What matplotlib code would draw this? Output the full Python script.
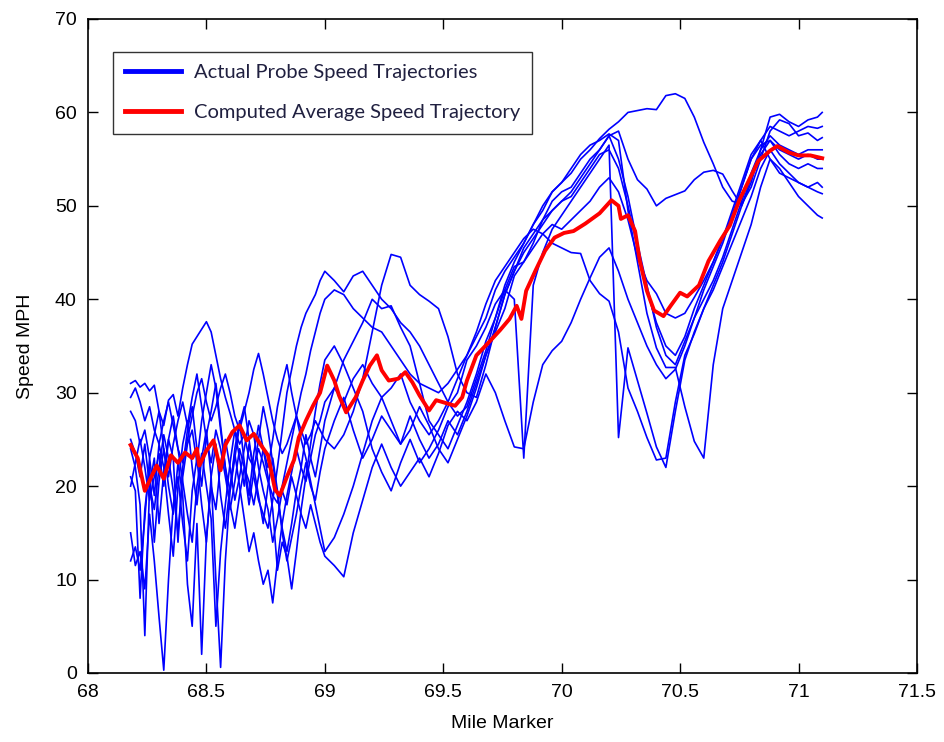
import matplotlib
matplotlib.use("Agg")
import matplotlib.pyplot as plt

# mile marker grid shared by the probe trajectories
miles_left = [68.18, 68.20, 68.22, 68.24, 68.26, 68.28, 68.30, 68.32, 68.34, 68.36,
              68.38, 68.40, 68.42, 68.44, 68.46, 68.48, 68.50, 68.52, 68.54, 68.56,
              68.58, 68.60, 68.62, 68.64, 68.66, 68.68, 68.70, 68.72, 68.74, 68.76,
              68.78, 68.80, 68.82, 68.84, 68.86, 68.88, 68.90, 68.92, 68.94, 68.96,
              68.98, 69.00]
miles_right = [69.04, 69.08, 69.12, 69.16, 69.20, 69.24, 69.28, 69.32, 69.36, 69.40,
               69.44, 69.48, 69.52, 69.56, 69.60, 69.64, 69.68, 69.72, 69.76, 69.80,
               69.84, 69.88, 69.92, 69.96, 70.00, 70.04, 70.08, 70.12, 70.16, 70.20,
               70.24, 70.28, 70.32, 70.36, 70.40, 70.44, 70.48, 70.52, 70.56, 70.60,
               70.64, 70.68, 70.72, 70.76, 70.80, 70.84, 70.88, 70.92, 70.96, 71.00,
               71.04, 71.08, 71.10]
probe_miles = miles_left + miles_right

# probe speed trajectories (mph)
probe_1 = [31.0, 31.3, 30.6, 31.0, 30.2, 30.8, 28.0, 26.5, 29.2, 29.8, 27.5, 30.5, 33.0, 35.2,
           36.0, 36.8, 37.6, 36.5, 34.0, 31.5, 29.5, 27.8, 26.0, 24.5, 25.5, 23.0, 22.0, 24.0,
           22.5, 20.5, 19.0, 18.2, 20.0, 22.5, 25.0, 27.5, 30.0, 32.0, 34.5, 36.5, 38.5, 40.0,
           41.0, 40.5, 39.0, 38.0, 37.0, 36.5, 35.0, 33.5, 32.0, 31.0, 30.5, 30.0, 31.0, 32.5,
           34.0, 36.0, 38.0, 41.0, 43.0, 44.5, 46.0, 48.0, 50.0, 51.5, 52.5, 53.5, 55.0, 56.0,
           57.2, 58.2, 59.0, 60.0, 60.2, 60.4, 60.3, 61.8, 62.0, 61.5, 59.5, 56.8, 54.5, 52.0,
           50.5, 50.2, 52.0, 55.0, 58.0, 59.2, 58.8, 57.5, 57.8, 57.0, 57.3]
probe_2 = [29.5, 30.5, 29.0, 27.0, 28.5, 26.0, 24.5, 27.0, 29.0, 26.5, 24.0, 22.5, 25.0, 27.5,
           30.0, 31.5, 29.0, 27.0, 28.5, 30.5, 32.0, 30.0, 27.5, 26.0, 28.0, 30.0, 32.5, 34.2,
           32.0, 29.5, 27.0, 25.0, 23.5, 24.5, 26.0, 27.5, 26.0, 24.5, 25.5, 27.0, 26.0, 25.0,
           24.0, 25.5, 28.0, 31.5, 36.5, 41.5, 44.8, 44.5, 41.5, 40.5, 39.8, 39.0, 36.0, 32.0,
           30.0, 29.5, 33.0, 37.0, 40.5, 43.0, 45.5, 47.0, 48.5, 49.5, 50.5, 51.5, 53.0, 54.5,
           56.0, 57.5, 58.0, 55.0, 52.8, 51.8, 50.0, 50.8, 51.2, 51.6, 52.8, 53.6, 53.8, 53.4,
           51.6, 50.0, 52.5, 56.0, 59.5, 59.8, 59.0, 58.5, 59.2, 59.5, 60.0]
probe_3 = [24.0, 22.0, 18.0, 4.0, 20.0, 23.0, 16.0, 21.5, 25.0, 23.0, 14.0, 22.0, 26.0, 28.5,
           24.0, 20.0, 25.5, 28.0, 31.0, 26.5, 22.0, 19.5, 23.0, 26.5, 28.5, 25.0, 21.0, 18.5,
           17.0, 15.5, 18.5, 22.0, 26.0, 30.0, 32.5, 35.0, 37.0, 38.5, 39.5, 40.5, 42.0, 43.0,
           42.0, 40.8, 42.5, 43.0, 41.5, 40.0, 39.0, 37.5, 36.5, 35.0, 33.0, 31.0, 29.0, 27.5,
           28.5, 31.5, 34.5, 38.0, 41.5, 44.0, 46.0, 48.0, 49.5, 51.5, 52.5, 54.0, 55.5, 56.5,
           57.0, 57.7, 57.0, 49.5, 44.0, 38.5, 34.8, 32.7, 32.7, 28.5, 24.8, 23.0, 33.0, 39.0,
           42.0, 45.0, 48.0, 52.0, 55.0, 54.0, 52.5, 51.0, 50.0, 49.0, 48.7]
probe_4 = [15.0, 11.5, 13.0, 9.0, 17.0, 12.0, 6.0, 0.3, 10.0, 18.0, 21.0, 16.0, 12.0, 19.5,
           23.0, 18.0, 14.0, 21.0, 24.5, 19.0, 15.5, 20.0, 23.5, 20.0, 16.5, 13.0, 15.0, 12.0,
           9.5, 11.0, 7.5, 12.0, 16.0, 19.0, 21.5, 24.0, 22.0, 20.5, 23.0, 25.5, 27.0, 29.0,
           30.5, 29.0, 31.5, 33.0, 31.0, 29.5, 30.5, 32.0, 29.0, 27.0, 25.5, 27.0, 29.0, 31.5,
           34.0, 36.5, 39.5, 42.0, 43.5, 45.0, 46.5, 47.5, 47.0, 46.0, 45.5, 45.0, 44.9, 42.0,
           40.6, 39.8, 36.5, 30.5, 28.0, 25.2, 22.8, 23.0, 29.0, 34.0, 36.3, 39.0, 41.0, 43.5,
           46.0, 48.5, 51.0, 54.0, 56.0, 54.5, 53.5, 52.5, 52.0, 51.5, 51.3]
probe_5 = [21.0, 19.5, 8.0, 17.5, 22.0, 14.0, 20.5, 24.0, 20.0, 17.0, 22.5, 19.0, 9.5, 5.0,
           16.0, 2.0, 14.5, 20.0, 17.5, 22.5, 25.0, 22.0, 18.5, 21.0, 24.0, 27.0, 25.5, 22.0,
           19.5, 17.5, 14.0, 16.5, 19.5, 18.0, 21.0, 19.0, 17.0, 15.5, 18.0, 16.0, 14.0, 12.5,
           11.5, 10.3, 15.0, 18.5, 22.0, 24.5, 22.0, 20.0, 21.5, 23.0, 21.0, 23.5, 26.5, 28.0,
           27.0, 29.0, 32.0, 30.0, 27.0, 24.2, 24.0, 29.0, 33.0, 34.5, 35.5, 37.5, 40.0, 42.3,
           44.5, 45.5, 43.0, 40.0, 37.5, 35.0, 33.0, 31.5, 32.5, 35.0, 38.0, 41.0, 43.5, 46.0,
           49.0, 52.0, 55.0, 57.0, 58.5, 58.0, 57.5, 58.0, 58.5, 58.3, 58.5]
probe_6 = [12.0, 13.5, 11.0, 16.5, 23.0, 19.0, 24.5, 22.0, 17.0, 12.5, 20.0, 24.5, 27.0, 22.0,
           18.0, 23.0, 26.0, 21.0, 10.0, 0.6, 12.0, 19.5, 24.0, 27.0, 22.5, 19.0, 23.5, 26.5,
           24.0, 21.0, 17.5, 11.0, 14.0, 12.5, 9.0, 13.0, 17.5, 21.0, 24.5, 28.0, 31.0, 33.5,
           35.0, 33.0, 30.5, 28.0, 24.0, 21.5, 19.5, 22.5, 25.0, 22.5, 24.0, 26.0, 28.5, 30.0,
           33.5, 35.0, 37.0, 39.5, 41.0, 40.0, 23.0, 41.5, 45.0, 47.5, 49.0, 50.5, 52.0, 53.5,
           55.0, 56.5, 25.2, 34.8, 31.3, 27.8, 24.2, 22.0, 28.0, 33.5, 36.5, 39.0, 41.5, 44.0,
           47.0, 50.0, 53.0, 55.5, 57.0, 55.5, 54.5, 54.0, 54.5, 54.0, 54.0]
probe_7 = [25.0, 23.5, 21.0, 24.5, 20.0, 17.5, 22.0, 25.5, 23.0, 19.5, 15.0, 21.0, 24.5, 26.0,
           22.5, 27.0, 30.0, 33.0, 30.5, 26.0, 22.0, 17.5, 20.5, 24.0, 22.0, 18.0, 21.5, 25.0,
           28.5, 26.0, 22.5, 19.0, 15.5, 13.0, 16.0, 19.5, 22.0, 25.5, 23.0, 21.0, 24.0, 27.0,
           30.5, 33.5, 35.5, 37.5, 40.0, 39.0, 39.3, 37.0, 35.0, 31.0, 27.0, 25.5, 24.0, 26.5,
           29.0, 32.0, 35.5, 38.0, 41.0, 43.5, 44.0, 45.5, 47.0, 48.0, 47.5, 48.5, 49.5, 50.5,
           52.0, 53.0, 51.5, 48.5, 44.5, 42.0, 40.6, 38.5, 38.0, 38.5, 40.2, 42.0, 44.0, 46.5,
           49.0, 52.0, 55.0, 56.5, 57.0, 56.0, 55.5, 55.0, 55.5, 55.0, 55.0]
probe_8 = [20.0, 22.5, 25.0, 22.0, 18.5, 21.0, 23.5, 20.0, 25.0, 27.5, 24.0, 20.5, 17.0, 14.0,
           20.0, 23.5, 20.0, 16.5, 5.0, 13.0, 18.0, 22.5, 26.0, 23.0, 20.0, 24.5, 22.0, 19.0,
           16.0, 20.0, 23.0, 19.5, 15.0, 12.0, 14.5, 17.0, 20.0, 22.5, 20.0, 18.5, 21.5, 24.0,
           27.0, 29.5, 26.0, 23.0, 25.0, 27.5, 26.0, 24.5, 27.5, 25.0, 23.0, 24.5, 27.0, 25.5,
           28.0, 31.0, 34.0, 36.5, 39.0, 42.5, 44.0, 46.0, 48.5, 50.5, 51.5, 52.0, 53.5, 55.0,
           56.0, 57.5, 55.0, 51.0, 46.0, 41.5, 37.0, 34.0, 33.0, 35.5, 38.0, 40.0, 42.0, 44.5,
           47.5, 50.5, 53.5, 56.0, 57.5, 56.5, 56.0, 55.5, 56.0, 56.0, 56.0]
probe_9 = [28.0, 27.0, 24.5, 26.0, 23.0, 25.5, 28.0, 24.0, 21.0, 24.5, 27.0, 29.0, 26.5, 29.5,
           32.0, 28.5, 25.0, 22.5, 26.0, 24.0, 21.0, 18.0, 15.5, 19.0, 22.0, 20.5, 18.0, 21.0,
           24.0, 22.0, 25.0, 28.5, 31.0, 33.0, 30.0, 27.5, 25.0, 23.0, 20.5, 18.0, 15.5, 13.0,
           14.5, 17.0, 20.0, 23.5, 27.0, 29.5, 27.0, 24.5, 26.0, 28.5, 26.5, 24.0, 22.5, 25.0,
           27.5, 30.5, 34.0, 37.0, 40.5, 43.0, 45.0, 46.5, 48.0, 49.5, 50.5, 51.0, 52.5, 54.0,
           55.5, 56.0, 54.0, 50.0, 45.5, 41.0, 37.5, 35.0, 34.0, 36.0, 39.0, 41.5, 44.0, 46.5,
           49.5, 52.5, 55.5, 57.0, 55.0, 53.5, 53.0, 52.5, 52.0, 52.5, 52.0]
probes = [probe_1, probe_2, probe_3, probe_4, probe_5, probe_6, probe_7, probe_8, probe_9]

# computed average trajectory
avg_miles = [68.18, 68.21, 68.24, 68.26, 68.29, 68.32, 68.35, 68.38, 68.41, 68.44, 68.46,
             68.47, 68.50, 68.53, 68.56, 68.58, 68.61, 68.64, 68.67, 68.70, 68.73, 68.76,
             68.79, 68.81, 68.84, 68.87, 68.89, 68.92, 68.95, 68.98, 69.01, 69.04, 69.06,
             69.09, 69.13, 69.16, 69.19, 69.22, 69.24, 69.27, 69.31, 69.34, 69.37, 69.40,
             69.44, 69.47, 69.51, 69.55, 69.58, 69.60, 69.64, 69.70, 69.74, 69.78, 69.81,
             69.83, 69.85, 69.89, 69.93, 69.97, 70.01, 70.05, 70.10, 70.16, 70.21, 70.24,
             70.25, 70.28, 70.31, 70.33, 70.36, 70.39, 70.43, 70.46, 70.50, 70.53, 70.58,
             70.62, 70.67, 70.71, 70.75, 70.79, 70.83, 70.88, 70.91, 70.96, 71.00, 71.05,
             71.10]
avg_speed = [24.4, 23.0, 19.5, 20.6, 22.2, 20.8, 23.3, 22.5, 23.6, 23.0, 24.0,
             22.2, 23.8, 24.9, 21.7, 24.4, 25.8, 26.5, 24.9, 25.6, 24.4, 23.3,
             19.6, 19.0, 21.0, 22.8, 25.2, 27.0, 28.6, 30.0, 32.9, 31.3, 29.7,
             27.9, 29.5, 31.3, 32.9, 34.0, 32.4, 31.3, 31.5, 32.2, 31.1, 29.7,
             28.1, 29.2, 28.9, 28.6, 29.5, 31.3, 34.0, 35.6, 36.7, 37.9, 39.3,
             37.9, 40.9, 43.1, 45.2, 46.6, 47.1, 47.3, 48.1, 49.2, 50.6, 50.0,
             48.6, 49.0, 47.3, 44.1, 40.9, 38.8, 38.2, 39.3, 40.7, 40.3, 41.5,
             44.1, 46.3, 47.9, 50.6, 52.7, 54.8, 55.9, 56.4, 55.7, 55.4, 55.4,
             55.1]

tick_font = ["Liberation Sans", "DejaVu Sans"]

fig = plt.figure(figsize=(9.45, 7.42), dpi=100)
ax = fig.add_axes([0.0931, 0.0930, 0.8772, 0.8814])

for i, speeds in enumerate(probes):
    ax.plot(probe_miles, speeds, color="#0000ff", lw=1.2,
            label="Actual Probe Speed Trajectories" if i == 0 else None, zorder=2)
ax.plot(avg_miles, avg_speed, color="#ff0000", lw=2.8,
        label="Computed Average Speed Trajectory", zorder=3)

ax.set_xlim(68, 71.5)
ax.set_ylim(0, 70)
ax.set_xticks([68, 68.5, 69, 69.5, 70, 70.5, 71, 71.5])
ax.set_xticklabels(["68", "68.5", "69", "69.5", "70", "70.5", "71", "71.5"])
ax.set_yticks(range(0, 71, 10))
ax.tick_params(direction="in", length=7, width=1, top=True, right=True,
               labelsize=14, pad=8)
for lab in ax.get_xticklabels() + ax.get_yticklabels():
    lab.set_family(tick_font)
for sp in ax.spines.values():
    sp.set_linewidth(1.2)

ax.set_xlabel("Mile Marker", fontsize=14, family=tick_font, labelpad=10)
ax.set_ylabel("Speed MPH", fontsize=14, family=tick_font, labelpad=15)

leg = ax.legend(loc="upper left", bbox_to_anchor=(0.0302, 0.9495), borderaxespad=0,
                frameon=True, fancybox=False, edgecolor="black",
                handlelength=2.8, handletextpad=0.6, labelspacing=1.15, borderpad=0.6,
                prop={"family": ["Lato", "DejaVu Sans"], "size": 14.5})
leg.get_frame().set_linewidth(1.0)
for h in leg.legend_handles:
    h.set_linewidth(3.5)
for t in leg.get_texts():
    t.set_color("#202040")

fig.savefig("out.png", dpi=100)
